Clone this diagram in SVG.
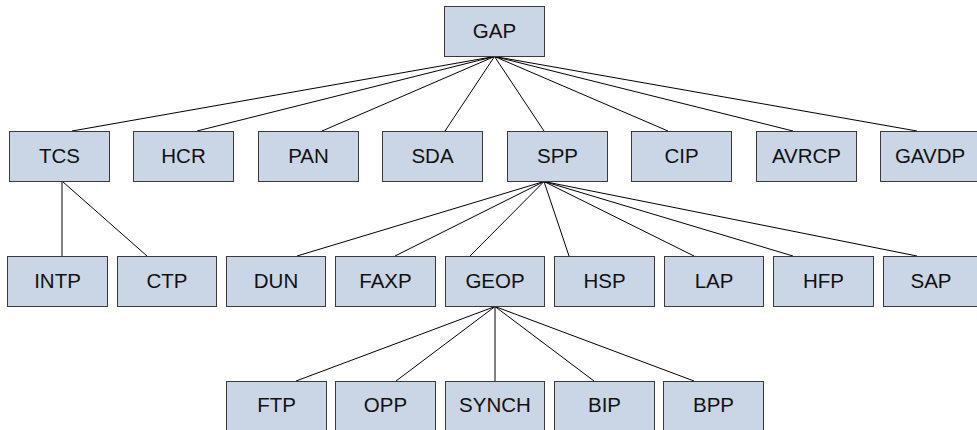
<svg xmlns="http://www.w3.org/2000/svg" width="977" height="430" viewBox="0 0 977 430">
  <style>
    .box rect { fill: #cad6e5; stroke: #3a3a3a; stroke-width: 1; }
    .box text { font-family: "Liberation Sans", Arial, sans-serif; font-size: 20.5px; fill: #111; text-anchor: middle; }
    #connectors line { stroke: #000; stroke-width: 1; }
  </style>
  <rect width="977" height="430" fill="#fff"/>

  <!-- connectors -->
  <g id="connectors">
    <!-- GAP to first level -->
    <line x1="494.5" y1="56.5" x2="72" y2="131"/>
    <line x1="494.5" y1="56.5" x2="197" y2="131"/>
    <line x1="494.5" y1="56.5" x2="322" y2="131"/>
    <line x1="494.5" y1="56.5" x2="445" y2="131"/>
    <line x1="494.5" y1="56.5" x2="544" y2="131"/>
    <line x1="494.5" y1="56.5" x2="668" y2="131"/>
    <line x1="494.5" y1="56.5" x2="793" y2="131"/>
    <line x1="494.5" y1="56.5" x2="917" y2="131"/>
    <!-- TCS children -->
    <line x1="62" y1="181.5" x2="62" y2="256"/>
    <line x1="62.5" y1="181.5" x2="147" y2="256"/>
    <!-- SPP children -->
    <line x1="544" y1="181.5" x2="297" y2="256"/>
    <line x1="544" y1="181.5" x2="395" y2="256"/>
    <line x1="544" y1="181.5" x2="470" y2="256"/>
    <line x1="544" y1="181.5" x2="569" y2="256"/>
    <line x1="544" y1="181.5" x2="694" y2="256"/>
    <line x1="544" y1="181.5" x2="793" y2="256"/>
    <line x1="544" y1="181.5" x2="917" y2="256"/>
    <!-- GEOP children -->
    <line x1="495" y1="306.5" x2="296" y2="381"/>
    <line x1="495" y1="306.5" x2="396" y2="381"/>
    <line x1="495" y1="306.5" x2="495" y2="381"/>
    <line x1="495" y1="306.5" x2="594" y2="381"/>
    <line x1="495" y1="306.5" x2="694" y2="381"/>
  </g>

  <!-- root -->
  <g id="GAP" class="box"><rect x="444.5" y="6.5" width="100" height="50"/><text x="494.5" y="37.5">GAP</text></g>

  <!-- first level -->
  <g id="TCS" class="box"><rect x="9.5" y="131.5" width="100" height="50"/><text x="59.5" y="162.5">TCS</text></g>
  <g id="HCR" class="box"><rect x="133.5" y="131.5" width="100" height="50"/><text x="183.5" y="162.5">HCR</text></g>
  <g id="PAN" class="box"><rect x="258.5" y="131.5" width="100" height="50"/><text x="308.5" y="162.5">PAN</text></g>
  <g id="SDA" class="box"><rect x="382.5" y="131.5" width="100" height="50"/><text x="432.5" y="162.5">SDA</text></g>
  <g id="SPP" class="box"><rect x="507.5" y="131.5" width="100" height="50"/><text x="557.5" y="162.5">SPP</text></g>
  <g id="CIP" class="box"><rect x="631.5" y="131.5" width="100" height="50"/><text x="681.5" y="162.5">CIP</text></g>
  <g id="AVRCP" class="box"><rect x="756.5" y="131.5" width="100" height="50"/><text x="806.5" y="162.5">AVRCP</text></g>
  <g id="GAVDP" class="box"><rect x="880.5" y="131.5" width="100" height="50"/><text x="930" y="162.5">GAVDP</text></g>

  <!-- second level -->
  <g id="INTP" class="box"><rect x="7.5" y="256.5" width="100" height="50"/><text x="57.5" y="287.5">INTP</text></g>
  <g id="CTP" class="box"><rect x="117.5" y="256.5" width="99" height="50"/><text x="167" y="287.5">CTP</text></g>
  <g id="DUN" class="box"><rect x="226.5" y="256.5" width="99" height="50"/><text x="276" y="287.5">DUN</text></g>
  <g id="FAXP" class="box"><rect x="335.5" y="256.5" width="100" height="50"/><text x="385.5" y="287.5">FAXP</text></g>
  <g id="GEOP" class="box"><rect x="445.5" y="256.5" width="99" height="50"/><text x="495" y="287.5">GEOP</text></g>
  <g id="HSP" class="box"><rect x="554.5" y="256.5" width="100" height="50"/><text x="604.5" y="287.5">HSP</text></g>
  <g id="LAP" class="box"><rect x="664.5" y="256.5" width="99" height="50"/><text x="714" y="287.5">LAP</text></g>
  <g id="HFP" class="box"><rect x="773.5" y="256.5" width="100" height="50"/><text x="823.5" y="287.5">HFP</text></g>
  <g id="SAP" class="box"><rect x="883.5" y="256.5" width="100" height="50"/><text x="931" y="287.5">SAP</text></g>

  <!-- third level -->
  <g id="FTP" class="box"><rect x="226.5" y="381.5" width="100" height="50"/><text x="276.5" y="411.5">FTP</text></g>
  <g id="OPP" class="box"><rect x="335.5" y="381.5" width="100" height="50"/><text x="385.5" y="411.5">OPP</text></g>
  <g id="SYNCH" class="box"><rect x="445.5" y="381.5" width="99" height="50"/><text x="495" y="411.5">SYNCH</text></g>
  <g id="BIP" class="box"><rect x="554.5" y="381.5" width="100" height="50"/><text x="604.5" y="411.5">BIP</text></g>
  <g id="BPP" class="box"><rect x="663.5" y="381.5" width="100" height="50"/><text x="713.5" y="411.5">BPP</text></g>
</svg>
